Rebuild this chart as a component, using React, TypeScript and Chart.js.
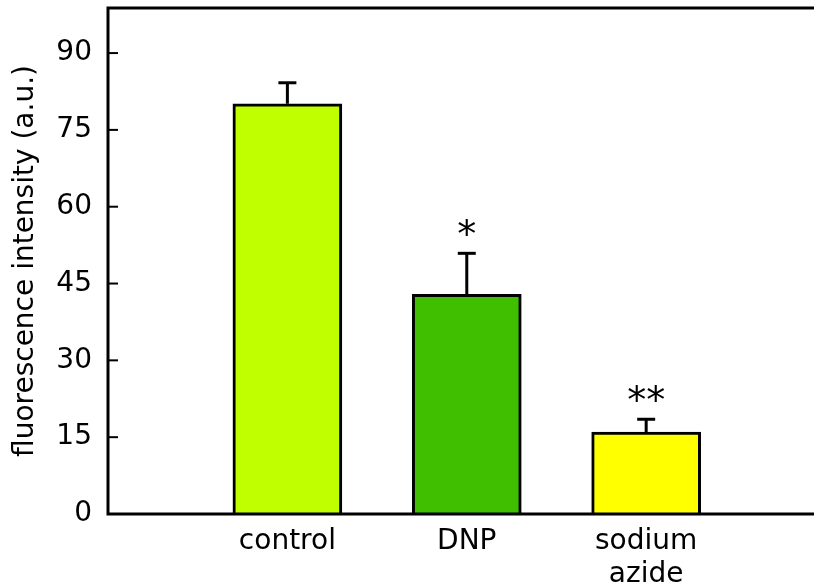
import React, { useEffect, useRef } from "react";
import { Chart, registerables } from "chart.js";

Chart.register(...registerables);

const categories: (string | string[])[] = ["control", "DNP", ["sodium", "azide"]];
const categoryPositions = [1, 2, 3];
const means = [80.1, 42.9, 16.0];
const errorTops = [84.2, 50.9, 18.5];
const significance = ["", "*", "**"];
const barColors = ["#bfff00", "#40bf00", "#ffff00"];
const yTickValues = [0, 15, 30, 45, 60, 75, 90];
const yMin = 0;
const yMax = 98.8;
const xMin = 0;
const xMax = 3.93;
const yTitle = "fluorescence intensity (a.u.)";

const FONT = "'DejaVu Sans', Verdana, sans-serif";

const framePlugin = {
  id: "frameAndErrors",
  afterDatasetsDraw(chart: any) {
    const { ctx, chartArea: a, scales } = chart;
    const xs = scales.x;
    const ys = scales.y;
    ctx.save();
    ctx.strokeStyle = "#000";
    ctx.fillStyle = "#000";
    ctx.lineCap = "butt";
    ctx.lineWidth = 3;
    means.forEach((m, i) => {
      const cx = xs.getPixelForValue(categoryPositions[i]);
      const y0 = ys.getPixelForValue(m);
      const y1 = ys.getPixelForValue(errorTops[i]);
      ctx.beginPath();
      ctx.moveTo(cx, y0);
      ctx.lineTo(cx, y1);
      ctx.stroke();
      ctx.beginPath();
      ctx.moveTo(cx - 9, y1);
      ctx.lineTo(cx + 9, y1);
      ctx.stroke();
      if (significance[i]) {
        const size = 38;
        ctx.font = `${size}px ${FONT}`;
        ctx.textAlign = "center";
        ctx.textBaseline = "alphabetic";
        ctx.fillText(significance[i], cx, ys.getPixelForValue(errorTops[i] + 5.5) + 0.57 * size);
      }
    });
    ctx.lineWidth = 3;
    ctx.beginPath();
    ctx.moveTo(a.right + 2, a.top);
    ctx.lineTo(a.left, a.top);
    ctx.lineTo(a.left, a.bottom);
    ctx.lineTo(a.right + 2, a.bottom);
    ctx.stroke();
    ctx.lineWidth = 2;
    yTickValues.forEach((v) => {
      const py = ys.getPixelForValue(v);
      ctx.beginPath();
      ctx.moveTo(a.left, py);
      ctx.lineTo(a.left + 10, py);
      ctx.stroke();
    });
    ctx.restore();
  },
};

export default function App() {
  const canvasRef = useRef<HTMLCanvasElement>(null);
  useEffect(() => {
    if (!canvasRef.current) return;
    const chart = new Chart(canvasRef.current, {
      type: "bar",
      data: {
        datasets: [
          {
            data: means.map((m, i) => ({ x: categoryPositions[i], y: m })) as any,
            backgroundColor: barColors,
            borderColor: "#000",
            borderWidth: 3,
            barThickness: 109,
            borderSkipped: "start",
          },
        ],
      },
      options: {
        animation: false,
        responsive: true,
        maintainAspectRatio: false,
        layout: { padding: { top: 8, right: 1, left: 0, bottom: 0 } },
        plugins: { legend: { display: false }, tooltip: { enabled: false } },
        scales: {
          x: {
            type: "linear",
            min: xMin,
            max: xMax,
            offset: false,
            grid: { display: false, drawTicks: false, offset: false },
            border: { display: false },
            afterBuildTicks: (s: any) => {
              s.ticks = categoryPositions.map((v) => ({ value: v }));
            },
            afterFit: (s: any) => {
              s.height = 74;
              s.paddingLeft = 0;
              s.paddingRight = 0;
            },
            ticks: {
              autoSkip: false,
              maxRotation: 0,
              minRotation: 0,
              padding: 11,
              color: "#000",
              font: { family: FONT, size: 28, lineHeight: 1.18 },
              callback: (v: any) => categories[categoryPositions.indexOf(Number(v))] as any,
            },
          },
          y: {
            min: yMin,
            max: yMax,
            grid: { display: false, drawTicks: false },
            border: { display: false },
            afterBuildTicks: (s: any) => {
              s.ticks = yTickValues.map((v) => ({ value: v }));
            },
            afterFit: (s: any) => {
              s.width = 108;
              s.paddingTop = 0;
              s.paddingBottom = 0;
            },
            ticks: {
              padding: 16,
              color: "#000",
              font: { family: FONT, size: 28 },
            },
            title: {
              display: true,
              text: yTitle,
              color: "#000",
              font: { family: FONT, size: 28 },
              padding: { top: 9, bottom: 0 },
            },
          },
        },
      },
      plugins: [framePlugin],
    });
    return () => chart.destroy();
  }, []);
  return (
    <div style={{ position: "absolute", left: 0, top: 0, width: 814, height: 588, background: "#fff" }}>
      <canvas ref={canvasRef} />
    </div>
  );
}
